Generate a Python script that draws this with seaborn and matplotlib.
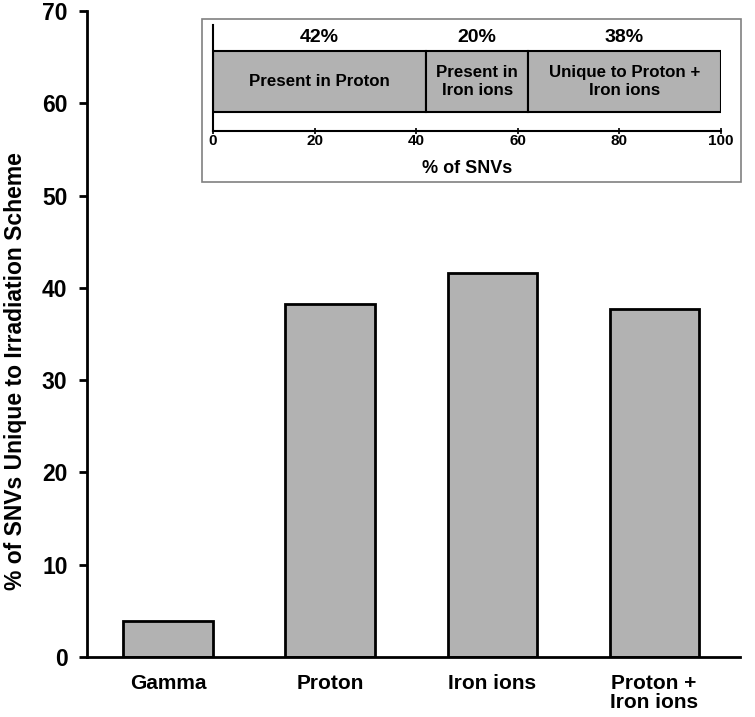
import numpy as np
import pandas as pd
import seaborn as sns
import matplotlib.pyplot as plt
from matplotlib.patches import Rectangle

# main bars
schemes = ["Gamma", "Proton", "Iron ions", "Proton +\nIron ions"]
unique_pct = [3.9, 38.2, 41.6, 37.7]

# inset stacked bar
segments = ["Present in Proton", "Present in\nIron ions", "Unique to Proton +\nIron ions"]
seg_pct = [42, 20, 38]
seg_labels = ["42%", "20%", "38%"]

sns.set_style("white")
plt.rcParams['font.family'] = ['Liberation Sans', 'DejaVu Sans']
plt.rcParams['text.color'] = 'black'
plt.rcParams['axes.labelcolor'] = 'black'
plt.rcParams['xtick.color'] = 'black'
plt.rcParams['ytick.color'] = 'black'

fig = plt.figure(figsize=(7.55, 7.17), dpi=100)
ax = fig.add_axes([0.1152, 0.0837, 0.865, 0.9010])

df = pd.DataFrame({"scheme": schemes, "pct": unique_pct})
sns.barplot(data=df, x="scheme", y="pct", color="#b2b2b2", saturation=1,
            edgecolor="black", linewidth=2, width=0.55, ax=ax)

ax.set_ylim(0, 70)
ax.set_xlim(-0.5, 3.53)
ax.set_yticks(range(0, 71, 10))
ax.set_xlabel("")
ax.set_ylabel("% of SNVs Unique to Irradiation Scheme", fontsize=16.5,
              fontweight="bold")
ax.yaxis.set_label_coords(-0.092, 0.443)
for s in ["top", "right"]:
    ax.spines[s].set_visible(False)
for s in ["left", "bottom"]:
    ax.spines[s].set_linewidth(2)
    ax.spines[s].set_color("black")
ax.tick_params(axis="y", left=True, length=6, width=2, direction="out",
               labelsize=16.5, pad=8)
ax.tick_params(axis="x", bottom=False, labelsize=15, pad=9)
for t in ax.get_yticklabels():
    t.set_fontweight("bold")
for t in ax.get_xticklabels():
    t.set_fontweight("bold")
    t.set_linespacing(1.0)
    t.set_verticalalignment("top")

# inset frame
fig.patches.append(Rectangle((0.2675, 0.7462), 0.714, 0.2273,
                             transform=fig.transFigure, fill=True,
                             facecolor="white", edgecolor="#808080",
                             linewidth=1.2, zorder=1))

ins = fig.add_axes([0.2821, 0.8173, 0.6728, 0.1478])
ins.set_zorder(2)
ins.set_facecolor("none")
lefts = np.cumsum([0] + seg_pct[:-1])
ins.barh([0.467] * len(seg_pct), seg_pct, left=lefts, height=0.575,
         color="#b2b2b2", edgecolor="black", linewidth=1.5)
for l, w, name, lab in zip(lefts, seg_pct, segments, seg_labels):
    ins.text(l + w / 2, 0.467, name, ha="center", va="center",
             fontsize=12.2, fontweight="bold", linespacing=1.2)
    ins.text(l + w / 2, 0.88, lab, ha="center", va="center", fontsize=14,
             fontweight="bold")
ins.set_xlim(0, 100)
ins.set_ylim(0, 1)
ins.set_xticks(range(0, 101, 20))
ins.set_yticks([])
for s in ["top", "right"]:
    ins.spines[s].set_visible(False)
for s in ["left", "bottom"]:
    ins.spines[s].set_linewidth(1.5)
    ins.spines[s].set_color("black")
ins.tick_params(axis="x", bottom=True, length=5, width=1.2, direction="inout",
                labelsize=11, pad=0)
for t in ins.get_xticklabels():
    t.set_fontweight("bold")
ins.set_xlabel("% of SNVs", fontsize=13, fontweight="bold", labelpad=8)

fig.savefig("out.png", dpi=100)
